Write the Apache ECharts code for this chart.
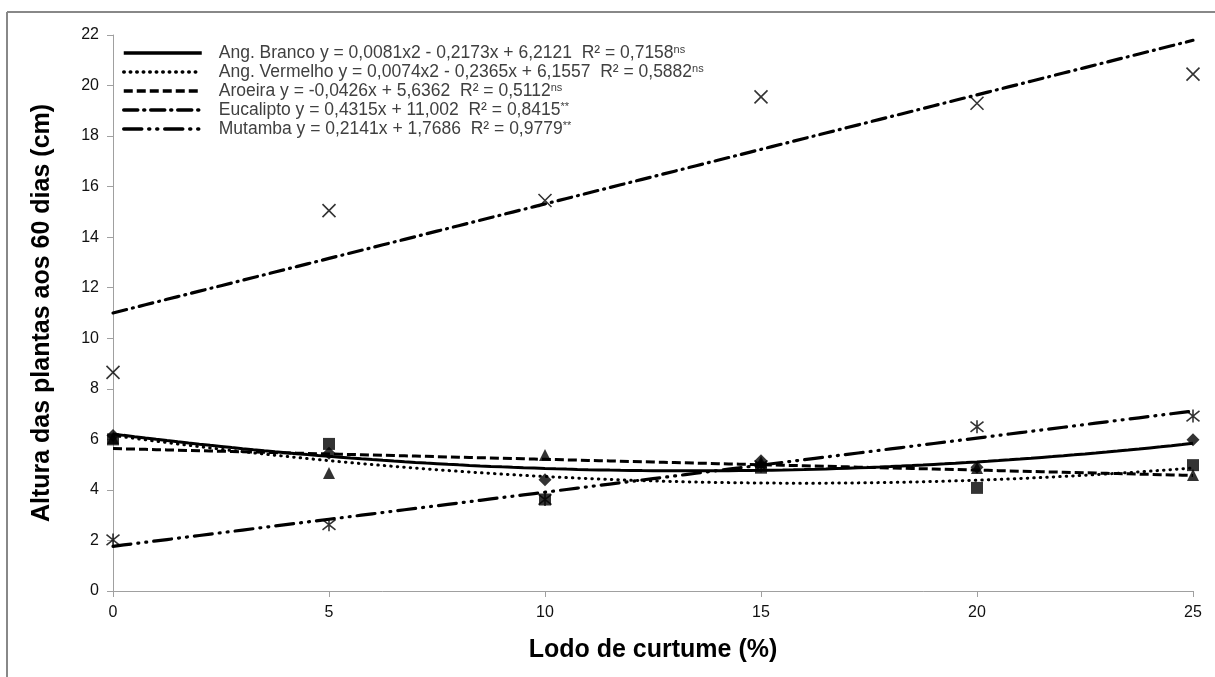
<!DOCTYPE html>
<html>
<head>
<meta charset="utf-8">
<script src="https://cdn.jsdelivr.net/npm/echarts@6/dist/echarts.min.js"></script>
<style>
  html, body { margin: 0; padding: 0; background: #fff; }
  #chart { width: 1215px; height: 677px; }
</style>
</head>
<body>
<div id="chart"></div>
<script>
// doses de lodo (%)
const doses = [0, 5, 10, 15, 20, 25];

// medias observadas
const angBranco = [6.15, 5.45, 4.4, 5.15, 4.9, 5.98];
const angVermelho = [6.0, 5.82, 3.62, 4.88, 4.08, 4.98];
const aroeira = [6.05, 4.67, 5.38, 5.1, 4.87, 4.59];
const eucalipto = [8.65, 15.05, 15.45, 19.55, 19.3, 20.45];
const mutamba = [2.02, 2.62, 3.62, 4.95, 6.5, 6.92];

// equacoes ajustadas (a2, a1, a0)
const eqBranco = [0.0081, -0.2173, 6.2121];
const eqVermelho = [0.0074, -0.2365, 6.1557];
const eqAroeira = [0, -0.0426, 5.6362];
const eqEucalipto = [0, 0.4315, 11.002];
const eqMutamba = [0, 0.2141, 1.7686];

const legendNames = [
    'Ang. Branco y = 0,0081x2 - 0,2173x + 6,2121  R² = 0,7158',
    'Ang. Vermelho y = 0,0074x2 - 0,2365x + 6,1557  R² = 0,5882',
    'Aroeira y = -0,0426x + 5,6362  R² = 0,5112',
    'Eucalipto y = 0,4315x + 11,002  R² = 0,8415',
    'Mutamba y = 0,2141x + 1,7686  R² = 0,9779'
];
const legendSup = ['ns', 'ns', 'ns', '**', '**'];

function trend(eq) {
    const pts = [];
    for (let x = 0; x <= 25; x += 0.25) {
        pts.push([x, eq[0] * x * x + eq[1] * x + eq[2]]);
    }
    return pts;
}

function pairs(vals) {
    return doses.map(function (d, i) { return [d, vals[i]]; });
}

const chart = echarts.init(document.getElementById('chart'));
const font = 'Liberation Sans, Arial, sans-serif';

const trendStyles = [
    { type: 'solid', width: 3 },
    { type: [0.5, 6], width: 3, cap: 'round' },
    { type: [9, 4], width: 3 },
    { type: [14, 6, 1, 6], width: 3.2, cap: 'round' },
    { type: [18, 7, 1, 7, 1, 7], width: 3.2, cap: 'round' }
];
const eqs = [eqBranco, eqVermelho, eqAroeira, eqEucalipto, eqMutamba];

const series = [];
eqs.forEach(function (eq, i) {
    series.push({
        name: legendNames[i],
        type: 'line',
        data: trend(eq),
        symbol: 'none',
        showSymbol: false,
        silent: true,
        color: '#000',
        lineStyle: Object.assign({ color: '#000' }, trendStyles[i]),
        z: 2
    });
});

const pointSets = [
    { data: angBranco, symbol: 'diamond', size: 13, stroke: false },
    { data: angVermelho, symbol: 'rect', size: 12, stroke: false },
    { data: aroeira, symbol: 'triangle', size: 12, stroke: false },
    { data: eucalipto, symbol: 'path://M0,0L10,10M10,0L0,10', size: 13, stroke: true },
    { data: mutamba, symbol: 'path://M1,1L9,9M9,1L1,9M5,0L5,10', size: 13, stroke: true }
];
pointSets.forEach(function (p, i) {
    series.push({
        name: 'pts' + i,
        type: 'scatter',
        data: pairs(p.data),
        symbol: p.symbol,
        symbolSize: p.size,
        silent: true,
        itemStyle: p.stroke
            ? { color: 'rgba(0,0,0,0)', borderColor: '#000', borderWidth: 1.6 }
            : { color: '#000' },
        z: 3
    });
});

const option = {
    animation: false,
    backgroundColor: '#fff',
    grid: { left: 113, right: 22, top: 35, bottom: 86 },
    legend: {
        data: legendNames,
        orient: 'vertical',
        left: 122,
        top: 44,
        padding: 0,
        itemWidth: 78,
        itemHeight: 12,
        itemGap: 1,
        selectedMode: false,
        itemStyle: { color: 'rgba(0,0,0,0)', borderWidth: 0, opacity: 0 },
        lineStyle: { width: 3.5 },
        formatter: function (name) {
            const i = legendNames.indexOf(name);
            return '{t|' + name + '}{s|' + legendSup[i] + '}';
        },
        textStyle: {
            rich: {
                t: { fontFamily: font, fontSize: 17.5, lineHeight: 16, color: '#404040', padding: [0, 0, 0, 12] },
                s: { fontFamily: font, fontSize: 11, lineHeight: 16, color: '#404040', padding: [0, 0, 7, 0] }
            }
        }
    },
    xAxis: {
        type: 'value',
        min: 0,
        max: 25,
        interval: 5,
        name: 'Lodo de curtume (%)',
        nameLocation: 'middle',
        nameGap: 47,
        nameTextStyle: { fontFamily: font, fontSize: 25, fontWeight: 'bold', color: '#000' },
        axisLine: { lineStyle: { color: '#a0a0a0', width: 1 } },
        axisTick: { show: true, length: 6, lineStyle: { color: '#a0a0a0' } },
        axisLabel: { fontFamily: font, fontSize: 16, color: '#111', margin: 14 },
        splitLine: { show: false }
    },
    yAxis: {
        type: 'value',
        min: 0,
        max: 22,
        interval: 2,
        name: 'Altura das plantas aos 60 dias (cm)',
        nameLocation: 'middle',
        nameGap: 58,
        nameTextStyle: { fontFamily: font, fontSize: 25, fontWeight: 'bold', color: '#000' },
        axisLine: { show: true, lineStyle: { color: '#a0a0a0', width: 1 } },
        axisTick: { show: true, length: 6, lineStyle: { color: '#a0a0a0' } },
        axisLabel: { fontFamily: font, fontSize: 16, color: '#111', margin: 14 },
        splitLine: { show: false }
    },
    graphic: [
        { type: 'line', shape: { x1: 7, y1: 12, x2: 1215, y2: 12 }, style: { stroke: '#888', lineWidth: 2 }, silent: true },
        { type: 'line', shape: { x1: 7, y1: 12, x2: 7, y2: 677 }, style: { stroke: '#888', lineWidth: 2 }, silent: true }
    ],
    series: series
};
chart.setOption(option);
</script>
</body>
</html>
